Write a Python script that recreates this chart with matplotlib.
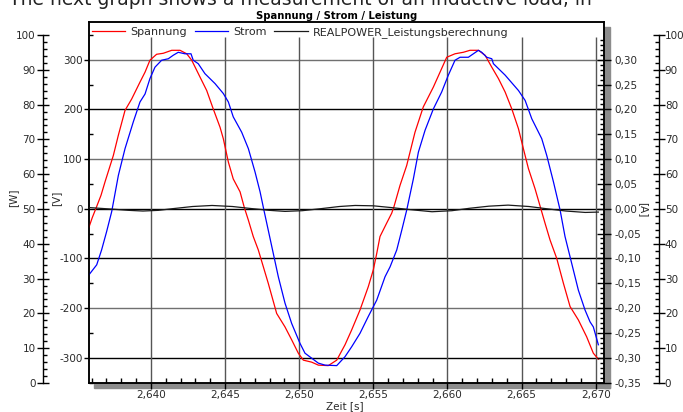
import matplotlib
matplotlib.use('Agg')
import matplotlib.pyplot as plt
from matplotlib.ticker import MultipleLocator, FixedLocator, FuncFormatter
from matplotlib.patches import Rectangle

plt.rcParams['font.family'] = ['DejaVu Sans']
plt.rcParams['axes.unicode_minus'] = False

# ---- data ----
# Spannung [V]
t_volt = [2.63582, 2.63604, 2.63628, 2.63663, 2.63690, 2.63746, 2.63780, 2.63825,
          2.63870, 2.63926, 2.63960, 2.63993, 2.64038, 2.64083, 2.64140, 2.64196,
          2.64241, 2.64275, 2.64331, 2.64376, 2.64420, 2.64466, 2.64488, 2.64522,
          2.64555, 2.64601, 2.64630, 2.64657, 2.64690, 2.64724, 2.64758, 2.64791,
          2.64848, 2.64904, 2.64949, 2.64994, 2.65028, 2.65084, 2.65129, 2.65196,
          2.65253, 2.65309, 2.65354, 2.65410, 2.65466, 2.65500, 2.65523, 2.65545,
          2.65590, 2.65624, 2.65640, 2.65680, 2.65725, 2.65781, 2.65837, 2.65905,
          2.65950, 2.65995, 2.66051, 2.66107, 2.66152, 2.66209, 2.66254, 2.66299,
          2.66344, 2.66389, 2.66434, 2.66479, 2.66512, 2.66546, 2.66591, 2.66625,
          2.66658, 2.66692, 2.66737, 2.66782, 2.66827, 2.66883, 2.66939, 2.66984,
          2.67018]
volt = [-37, -18, 0, 27, 54, 107, 148, 198,
        221, 255, 275, 299, 311, 313, 319, 319,
        312, 299, 265, 238, 201, 164, 141, 94,
        60, 34, 2, -23, -56, -83, -117, -150,
        -211, -238, -264, -291, -305, -309, -315, -316,
        -305, -274, -244, -204, -157, -123, -90, -56,
        -29, -9, 5, 47, 87, 154, 205, 245,
        275, 305, 312, 315, 319, 319, 309, 285,
        262, 235, 201, 161, 121, 81, 40, 5,
        -29, -63, -100, -150, -197, -224, -258, -291,
        -303]

# Strom [A]
t_amp = [2.63582, 2.63634, 2.63667, 2.63701, 2.63735, 2.63780, 2.63825, 2.63881,
         2.63926, 2.63960, 2.63993, 2.64027, 2.64072, 2.64117, 2.64150, 2.64184,
         2.64229, 2.64270, 2.64285, 2.64319, 2.64364, 2.64432, 2.64488, 2.64522,
         2.64555, 2.64612, 2.64657, 2.64702, 2.64736, 2.64762, 2.64791, 2.64825,
         2.64859, 2.64904, 2.64949, 2.65005, 2.65039, 2.65084, 2.65129, 2.65174,
         2.65253, 2.65309, 2.65354, 2.65410, 2.65466, 2.65523, 2.65579, 2.65613,
         2.65658, 2.65692, 2.65725, 2.65770, 2.65804, 2.65849, 2.65905, 2.65961,
         2.66006, 2.66051, 2.66085, 2.66141, 2.66175, 2.66209, 2.66231, 2.66265,
         2.66299, 2.66310, 2.66389, 2.66479, 2.66524, 2.66569, 2.66636, 2.66670,
         2.66715, 2.66760, 2.66793, 2.66838, 2.66883, 2.66928, 2.66962, 2.66984,
         2.67018]
amp = [-0.133, -0.113, -0.083, -0.046, -0.006, 0.067, 0.121, 0.175,
       0.215, 0.231, 0.262, 0.285, 0.299, 0.302, 0.309, 0.315,
       0.312, 0.312, 0.299, 0.292, 0.272, 0.252, 0.232, 0.215,
       0.185, 0.154, 0.121, 0.074, 0.034, -0.003, -0.043, -0.090,
       -0.137, -0.190, -0.231, -0.271, -0.291, -0.301, -0.311, -0.315,
       -0.316, -0.298, -0.278, -0.251, -0.217, -0.184, -0.137, -0.117,
       -0.083, -0.043, -0.003, 0.060, 0.114, 0.158, 0.201, 0.235,
       0.269, 0.299, 0.305, 0.305, 0.312, 0.319, 0.315, 0.305,
       0.302, 0.292, 0.269, 0.238, 0.218, 0.181, 0.141, 0.107,
       0.054, -0.003, -0.056, -0.110, -0.164, -0.204, -0.228, -0.238,
       -0.274]

# REALPOWER_Leistungsberechnung [W]
t_pow = [2.63582, 2.63720, 2.63850, 2.63946, 2.64050, 2.64150, 2.64280, 2.64412,
         2.64550, 2.64680, 2.64800, 2.64904, 2.65020, 2.65150, 2.65270, 2.65377,
         2.65500, 2.65620, 2.65750, 2.65896, 2.66030, 2.66150, 2.66280, 2.66409,
         2.66550, 2.66680, 2.66800, 2.66929, 2.67018]
power = [50.4, 50.0, 49.6, 49.4, 49.6, 50.1, 50.7, 51.0,
         50.7, 50.1, 49.6, 49.3, 49.5, 50.1, 50.7, 51.0,
         50.9, 50.4, 49.8, 49.2, 49.5, 50.2, 50.8, 51.1,
         50.7, 50.0, 49.4, 49.0, 49.1]

labels = ['Spannung', 'Strom', 'REALPOWER_Leistungsberechnung']
v_lim = (-350, 376)
t_lim = (2.63582, 2.67058)
amp_major = [-0.35, -0.30, -0.25, -0.20, -0.15, -0.10, -0.05, 0.0,
             0.05, 0.10, 0.15, 0.20, 0.25, 0.30]
amp_minor = [i / 100 for i in range(-35, 35)]
gray_hlines = [300, 100, -200]

W, H = 683, 412
fig = plt.figure(figsize=(W / 100, H / 100), dpi=100)
fx = lambda px: px / W
fy = lambda py: 1 - py / H
txt = '#2a2a2a'

# drop shadow of the plot frame
fig.add_artist(Rectangle((fx(94), fy(388)), fx(610) - fx(94), fy(382.5) - fy(388),
                         transform=fig.transFigure, color='#8c8c8c', zorder=-1))
fig.add_artist(Rectangle((fx(604), fy(388)), fx(610) - fx(604), fy(27) - fy(388),
                         transform=fig.transFigure, color='#8c8c8c', zorder=-1))


def watt_axis(x, side, pad):
    a = fig.add_axes([fx(x) if side == 'left' else fx(x) - 0.01, fy(383),
                      0.01, fy(35) - fy(383)])
    a.patch.set_visible(False)
    for s in ['top', 'bottom', 'left', 'right']:
        a.spines[s].set_visible(s == side)
    a.spines[side].set_linewidth(1.0)
    a.set_xticks([])
    a.set_ylim(0, 100)
    a.yaxis.set_major_locator(MultipleLocator(10))
    a.yaxis.set_minor_locator(MultipleLocator(2))
    a.yaxis.set_ticks_position(side)
    a.tick_params(axis='y', which='major', direction='inout', length=8, width=1,
                  labelsize=7.5, pad=pad, labelcolor=txt)
    a.tick_params(axis='y', which='minor', direction='in', length=3.2, width=1)
    return a


watt_axis(43, 'left', 1.4)
watt_axis(659, 'right', 0.2)

ax = fig.add_axes([fx(89), fy(382.5), fx(604.3) - fx(89), fy(22) - fy(382.5)])
ax.set_xlim(*t_lim)
ax.set_ylim(*v_lim)
for s in ax.spines.values():
    s.set_linewidth(1.1)

ax.xaxis.set_major_locator(MultipleLocator(0.005))
ax.xaxis.set_minor_locator(MultipleLocator(0.001))
ax.xaxis.set_major_formatter(FuncFormatter(lambda v, p: f'{v:.3f}'.replace('.', ',')))
ax.yaxis.set_major_locator(MultipleLocator(100))
ax.yaxis.set_minor_locator(MultipleLocator(50))
ax.yaxis.set_major_formatter(FuncFormatter(lambda v, p: f'{v:.0f}'))
ax.tick_params(axis='x', which='major', direction='out', length=4.3, width=1,
               labelsize=7.5, pad=1.2, labelcolor=txt)
ax.tick_params(axis='x', which='minor', direction='in', length=3.6, width=1)
ax.tick_params(axis='y', which='major', direction='out', length=3.6, width=1,
               labelsize=7.5, pad=1.1, labelcolor=txt)
ax.tick_params(axis='y', which='minor', direction='in', length=2.9, width=1)

# grid
for v in range(-300, 301, 100):
    ax.axhline(v, color='#707070' if v in gray_hlines else 'black', lw=1.0, zorder=1)
for t in ax.get_xticks():
    if t_lim[0] <= t <= t_lim[1]:
        ax.vlines(t, v_lim[0], 346, color='#555555', lw=1.0, zorder=1)

l_volt, = ax.plot(t_volt, volt, color='#ff0000', lw=0.9, zorder=3)

ax2 = ax.twinx()
ax2.set_ylim(v_lim[0] / 1000, v_lim[1] / 1000)
ax2.yaxis.set_major_locator(FixedLocator(amp_major))
ax2.yaxis.set_minor_locator(FixedLocator(amp_minor))


def amp_fmt(v, p):
    v = round(v, 3)
    if abs(v) < 1e-9:
        v = 0.0
    return f'{v:.2f}'.replace('.', ',')


ax2.yaxis.set_major_formatter(FuncFormatter(amp_fmt))
ax2.tick_params(axis='y', which='major', direction='inout', length=9.4, width=1,
                labelsize=7.5, pad=2.3, labelcolor=txt)
ax2.tick_params(axis='y', which='minor', direction='in', length=3.2, width=1)
for s in ax2.spines.values():
    s.set_linewidth(1.1)
l_amp, = ax2.plot(t_amp, amp, color='#0000ff', lw=0.9)

ax3 = ax.twinx()
ax3.set_ylim(0.15, 103.7)
ax3.axis('off')
l_pow, = ax3.plot(t_pow, power, color='#1a1a1a', lw=0.9)

ax3.legend([l_volt, l_amp, l_pow], labels, loc='center left',
           bbox_to_anchor=(fx(92), fy(32.3)), bbox_transform=fig.transFigure,
           ncol=3, frameon=False, fontsize=8, handlelength=3.0, handletextpad=0.45,
           columnspacing=0.7, borderpad=0, borderaxespad=0, labelcolor=txt)

fig.text(fx(336.5), fy(15.7), 'Spannung / Strom / Leistung', ha='center', va='center',
         fontsize=7.2, fontweight='bold', color='black')
fig.text(fx(9), fy(5), 'The next graph shows a measurement of an inductive load, in',
         ha='left', va='baseline', fontsize=13.5, color='#222222')
fig.text(fx(13.5), fy(198), '[W]', rotation=90, ha='center', va='center', fontsize=7.5, color=txt)
fig.text(fx(56), fy(198), '[V]', rotation=90, ha='center', va='center', fontsize=7.5, color=txt)
fig.text(fx(643), fy(210), '[A]', rotation=270, ha='center', va='center', fontsize=7.5, color=txt)
fig.text(fx(345), fy(406.5), 'Zeit [s]', ha='center', va='center', fontsize=7.5, color=txt)

fig.savefig('out.png', dpi=100)
